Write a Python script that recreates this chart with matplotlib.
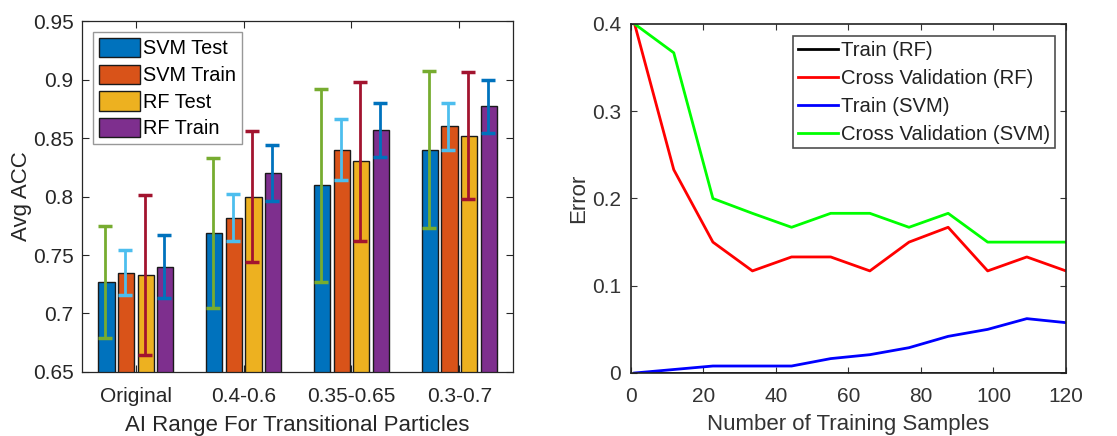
import matplotlib
matplotlib.use("Agg")
import matplotlib.pyplot as plt
import numpy as np

plt.rcParams['font.family'] = ['Liberation Sans', 'DejaVu Sans']

# ---------------- Left chart data ----------------
groups = ["Original", "0.4-0.6", "0.35-0.65", "0.3-0.7"]
series_names = ["SVM Test", "SVM Train", "RF Test", "RF Train"]
svm_test = [0.727, 0.769, 0.810, 0.840]
svm_train = [0.735, 0.782, 0.840, 0.860]
rf_test = [0.733, 0.800, 0.830, 0.852]
rf_train = [0.740, 0.820, 0.857, 0.877]
# error bar bounds (upper, lower)
svm_test_hi = [0.7745, 0.833, 0.892, 0.907]
svm_test_lo = [0.679, 0.705, 0.727, 0.773]
svm_train_hi = [0.754, 0.802, 0.866, 0.880]
svm_train_lo = [0.716, 0.762, 0.814, 0.840]
rf_test_hi = [0.801, 0.856, 0.898, 0.906]
rf_test_lo = [0.6645, 0.744, 0.762, 0.798]
rf_train_hi = [0.767, 0.844, 0.880, 0.900]
rf_train_lo = [0.713, 0.796, 0.834, 0.854]

# ---------------- Right chart data ----------------
n_samples = [1, 11.8, 22.6, 33.5, 44.3, 55.1, 65.9, 76.7, 87.5, 98.4, 109.2, 120]
train_rf = [0, 0, 0, 0, 0, 0, 0, 0, 0, 0, 0, 0]
cv_rf = [0.4, 0.233, 0.150, 0.117, 0.133, 0.133, 0.117, 0.150, 0.167, 0.117, 0.133, 0.117]
train_svm = [0.0, 0.004, 0.008, 0.008, 0.008, 0.0165, 0.021, 0.029, 0.042, 0.050, 0.0623, 0.0577]
cv_svm = [0.4, 0.367, 0.200, 0.183, 0.167, 0.183, 0.183, 0.167, 0.183, 0.150, 0.150, 0.150]

bar_colors = ["#0072BD", "#D95319", "#EDB120", "#7E2F8E"]
err_colors = ["#77AC30", "#4DBEEE", "#A2142F", "#0072BD"]
text_col = "#262626"

fig = plt.figure(figsize=(11.17, 4.36), dpi=100)

# ---------- Left axes ----------
ax1 = fig.add_axes([0.0734, 0.1468, 0.386, 0.805])
vals = [svm_test, svm_train, rf_test, rf_train]
his = [svm_test_hi, svm_train_hi, rf_test_hi, rf_train_hi]
los = [svm_test_lo, svm_train_lo, rf_test_lo, rf_train_lo]
x = np.arange(1, len(groups) + 1)
offsets = [-0.273, -0.091, 0.091, 0.273]
width = 0.15
for i in range(4):
    ax1.bar(x + offsets[i], vals[i], width, bottom=0, color=bar_colors[i],
            edgecolor="#1a1a1a", linewidth=1.0, label=series_names[i], zorder=2)
for i in range(4):
    v = np.array(vals[i]); hi = np.array(his[i]); lo = np.array(los[i])
    ax1.errorbar(x + offsets[i] - 0.01, v, yerr=[v - lo, hi - v], fmt='none',
                 ecolor=err_colors[i], elinewidth=2.0, capsize=5, capthick=2.5, zorder=3)
ax1.set_xlim(0.5, 4.5)
ax1.set_ylim(0.65, 0.95)
ax1.set_xticks(x)
ax1.set_xticklabels(groups)
ax1.set_yticks([0.65, 0.7, 0.75, 0.8, 0.85, 0.9, 0.95])
ax1.set_yticklabels(["0.65", "0.7", "0.75", "0.8", "0.85", "0.9", "0.95"])
ax1.tick_params(direction='in', top=True, right=True, length=5, width=0.8,
                labelsize=15, colors=text_col)
ax1.tick_params(axis='x', pad=11)
ax1.tick_params(axis='y', pad=6)
for s in ax1.spines.values():
    s.set_color(text_col)
    s.set_linewidth(0.9)
ax1.set_ylabel("Avg ACC", fontsize=16, color=text_col, labelpad=1)
ax1.set_xlabel("AI Range For Transitional Particles", fontsize=16, color=text_col, labelpad=6)
leg1 = ax1.legend(loc='upper left', bbox_to_anchor=(0.025, 0.968), fontsize=14.3,
                  frameon=True, fancybox=False, edgecolor="#7f7f7f", handlelength=2.1,
                  handleheight=1.1, handletextpad=0.15, borderpad=0.3, labelspacing=0.32,
                  borderaxespad=0.0)
leg1.get_frame().set_linewidth(1.0)
for t in leg1.get_texts():
    t.set_color("#000000")

# ---------- Right axes ----------
ax2 = fig.add_axes([0.5649, 0.1445, 0.3894, 0.8005])
ax2.plot(n_samples, train_rf, color="black", linewidth=2.0, label="Train (RF)")
ax2.plot(n_samples, cv_rf, color="#ff0000", linewidth=2.0, label="Cross Validation (RF)")
ax2.plot(n_samples, train_svm, color="#0000ff", linewidth=2.0, label="Train (SVM)")
ax2.plot(n_samples, cv_svm, color="#00ff00", linewidth=2.0, label="Cross Validation (SVM)")
ax2.set_xlim(0, 120)
ax2.set_ylim(0, 0.4)
ax2.set_xticks([0, 20, 40, 60, 80, 100, 120])
ax2.set_yticks([0, 0.1, 0.2, 0.3, 0.4])
ax2.set_yticklabels(["0", "0.1", "0.2", "0.3", "0.4"])
ax2.tick_params(direction='in', top=True, right=True, length=4, width=0.8,
                labelsize=15, colors="#333333")
ax2.tick_params(axis='x', pad=10)
ax2.tick_params(axis='y', pad=7)
for s in ax2.spines.values():
    s.set_color("#222222")
    s.set_linewidth(1.2)
ax2.set_ylabel("Error", fontsize=16, color="#333333", labelpad=2)
ax2.set_xlabel("Number of Training Samples", fontsize=16, color="#333333", labelpad=6)
leg2 = ax2.legend(loc='upper right', bbox_to_anchor=(0.975, 0.965), fontsize=14.6,
                  frameon=True, fancybox=False, edgecolor="#222222", handlelength=2.0,
                  handletextpad=0.15, borderpad=0.22, labelspacing=0.45, borderaxespad=0.0)
leg2.get_frame().set_linewidth(1.2)
for t in leg2.get_texts():
    t.set_color("#222222")

fig.savefig("out.png", dpi=100)
